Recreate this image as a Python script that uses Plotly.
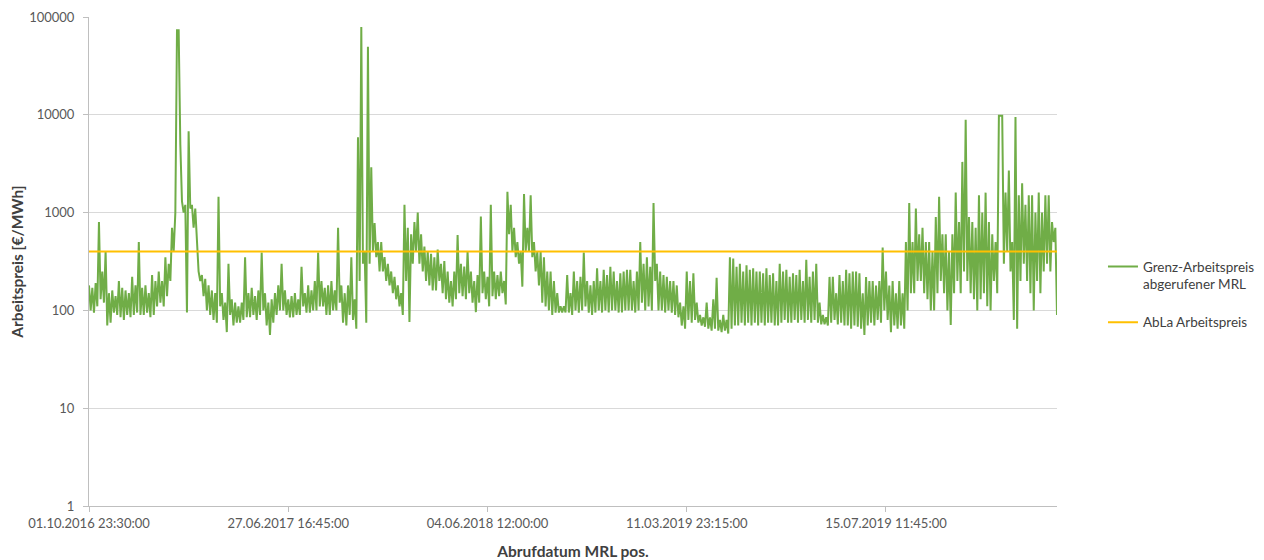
import plotly.graph_objects as go

# Category tick labels shown on the x axis (every 120th call-off record)
tick_labels = [
    "01.10.2016 23:30:00",
    "27.06.2017 16:45:00",
    "04.06.2018 12:00:00",
    "11.03.2019 23:15:00",
    "15.07.2019 11:45:00",
]

# Grenz-Arbeitspreis abgerufener MRL [€/MWh]
# (pairs of high/low readings per narrow column of the picture)
grenz_preis = [
    180, 100, 170, 95, 190, 110, 800, 130, 250, 120,
    400, 70, 150, 75, 160, 95, 140, 90, 200, 85,
    170, 80, 160, 90, 150, 85, 220, 90, 180, 95,
    500, 90, 170, 90, 180, 95, 150, 85, 230, 90,
    200, 110, 250, 120, 200, 110, 350, 140, 300, 200,
    700, 400, 1000, 73000, 73000, 5000, 1300, 1000, 1200, 95,
    6800, 1100, 1200, 700, 1100, 600, 250, 200, 230, 140,
    210, 100, 180, 90, 160, 80, 150, 75, 1450, 110,
    150, 80, 120, 60, 300, 90, 130, 70, 120, 75,
    110, 75, 120, 80, 350, 85, 150, 85, 170, 90,
    140, 80, 160, 90, 390, 100, 150, 70, 120, 56,
    130, 75, 150, 90, 180, 100, 300, 100, 160, 90,
    130, 85, 140, 85, 150, 90, 130, 90, 280, 110,
    150, 95, 180, 95, 160, 100, 200, 100, 390, 110,
    200, 110, 170, 90, 180, 90, 200, 100, 160, 100,
    700, 120, 180, 75, 150, 70, 180, 90, 350, 80,
    130, 65, 5900, 200, 79000, 300, 400, 75, 49500, 300,
    2900, 400, 780, 350, 500, 250, 500, 250, 350, 200,
    300, 180, 250, 150, 220, 130, 180, 110, 150, 90,
    1200, 200, 700, 76, 600, 300, 800, 400, 1000, 300,
    600, 250, 450, 200, 400, 180, 380, 160, 350, 160,
    420, 200, 300, 150, 320, 130, 250, 120, 200, 110,
    250, 130, 590, 150, 300, 140, 280, 130, 400, 150,
    250, 120, 200, 96, 230, 120, 910, 150, 250, 130,
    220, 110, 1200, 140, 250, 130, 230, 140, 250, 150,
    200, 115, 1630, 600, 1200, 400, 700, 350, 500, 300,
    400, 175, 1550, 400, 700, 400, 1500, 350, 500, 250,
    400, 180, 400, 120, 350, 110, 250, 100, 250, 90,
    200, 95, 150, 95, 110, 95, 110, 95, 230, 95,
    150, 90, 250, 100, 200, 95, 220, 100, 390, 110,
    200, 95, 180, 90, 200, 95, 270, 100, 200, 95,
    260, 100, 230, 95, 280, 100, 250, 100, 200, 95,
    240, 95, 250, 100, 260, 100, 260, 100, 200, 95,
    250, 100, 500, 120, 300, 100, 350, 110, 280, 100,
    1250, 200, 300, 100, 250, 100, 230, 95, 220, 100,
    200, 95, 200, 90, 180, 85, 120, 70, 110, 65,
    250, 80, 200, 75, 240, 80, 120, 75, 90, 70,
    85, 68, 120, 65, 85, 62, 130, 65, 215, 62,
    80, 60, 90, 62, 80, 58, 350, 65, 340, 70,
    280, 70, 300, 75, 250, 70, 290, 75, 260, 70,
    270, 75, 250, 70, 250, 75, 240, 70, 270, 75,
    230, 75, 240, 70, 200, 70, 300, 75, 250, 80,
    260, 75, 220, 75, 240, 80, 230, 75, 260, 80,
    200, 75, 330, 80, 220, 75, 250, 80, 300, 75,
    120, 72, 90, 72, 85, 70, 220, 75, 220, 80,
    150, 72, 230, 75, 200, 70, 260, 70, 240, 65,
    250, 70, 250, 68, 240, 65, 150, 56, 220, 70,
    200, 75, 200, 70, 180, 80, 200, 75, 440, 100,
    250, 80, 180, 60, 200, 70, 150, 65, 200, 70,
    150, 65, 500, 100, 1250, 150, 500, 150, 1100, 200,
    600, 200, 700, 150, 500, 130, 500, 100, 400, 100,
    900, 150, 1450, 200, 600, 150, 600, 100, 400, 71,
    600, 150, 1600, 200, 800, 150, 3300, 250, 8900, 200,
    900, 150, 800, 130, 700, 100, 1500, 130, 1000, 150,
    1600, 110, 800, 100, 600, 200, 500, 150, 9800, 9800,
    9800, 300, 1600, 400, 2700, 250, 500, 80, 9500, 65,
    1500, 200, 2000, 300, 1200, 200, 1500, 150, 1500, 100,
    1000, 200, 1600, 150, 1000, 250, 1500, 300, 1500, 250,
    800, 500, 700, 90,
]

# AbLa Arbeitspreis [€/MWh] (constant)
abla_preis_value = 400

y_tick_values = [1, 10, 100, 1000, 10000, 100000]
y_tick_labels = ["1", "10", "100", "1000", "10000", "100000"]

records = list(range(len(grenz_preis)))
tick_every = 120
tick_positions = [k * tick_every for k in range(len(tick_labels))]
abla_preis = [abla_preis_value] * len(records)

FONT = "Lato, 'Open Sans', sans-serif"

fig = go.Figure()
fig.add_trace(go.Scatter(
    x=records, y=grenz_preis, mode="lines",
    name="Grenz-Arbeitspreis<br>abgerufener MRL<br> ",
    line=dict(color="#70ad47", width=2),
))
fig.add_trace(go.Scatter(
    x=records, y=abla_preis, mode="lines",
    name="AbLa Arbeitspreis",
    line=dict(color="#ffc000", width=2),
))

# the page body has an 8px default margin, so the figure is 8px smaller
fig.update_layout(
    width=1256, height=552,
    margin=dict(l=81, r=207, t=9, b=54, autoexpand=False),
    paper_bgcolor="white", plot_bgcolor="white",
    font=dict(family=FONT, size=13, color="#595959"),
    showlegend=True,
    legend=dict(
        x=1.0475, y=0.521, xanchor="left", yanchor="top",
        valign="top",
        font=dict(family=FONT, size=13.5, color="#404040"),
        bgcolor="rgba(0,0,0,0)",
    ),
    xaxis=dict(
        range=[0, len(records) - 1], automargin=False,
        tickmode="array", tickvals=tick_positions, ticktext=tick_labels,
        showgrid=False, zeroline=False,
        showline=True, linecolor="#bfbfbf", linewidth=1,
        ticks="outside", ticklen=5, tickcolor="#bfbfbf",
        tickfont=dict(family=FONT, size=13, color="#595959"),
        title=dict(text="<b>Abrufdatum MRL pos.</b>",
                   font=dict(family=FONT, size=15.5, color="#404040"),
                   standoff=16),
    ),
    yaxis=dict(
        type="log", range=[0, 5], automargin=False,
        tickmode="array", tickvals=y_tick_values, ticktext=y_tick_labels,
        showgrid=True, gridcolor="#d9d9d9", gridwidth=1,
        zeroline=False,
        showline=True, linecolor="#bfbfbf", linewidth=1,
        ticks="outside", ticklen=5, tickcolor="#bfbfbf",
        ticklabelstandoff=6,
        tickfont=dict(family=FONT, size=13, color="#595959"),
        title=dict(text="<b>Arbeitspreis [€/MWh]</b>",
                   font=dict(family=FONT, size=15.5, color="#404040"),
                   standoff=4),
    ),
)

fig.write_html("out.html")
